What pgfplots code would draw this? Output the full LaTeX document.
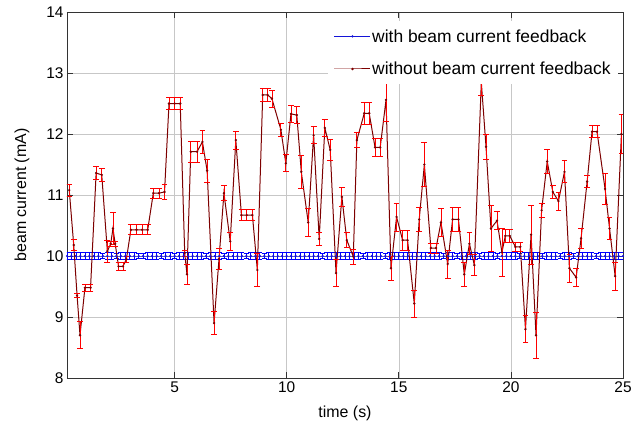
\documentclass[border=0pt]{standalone}
\usepackage{pgfplots}
\usepackage{pgfplotstable}
\pgfplotsset{compat=1.18}
\usepackage{fontspec}
\setmainfont{Liberation Sans}
\definecolor{redline}{RGB}{125,0,0}
\definecolor{rederr}{RGB}{255,0,0}
\definecolor{blueline}{RGB}{20,20,215}
\definecolor{blueerr}{RGB}{0,0,255}

\pgfplotstableread[row sep=\\]{
t y e\\
0.2 10 0.06\\ 0.4 10 0.06\\ 0.6 10 0.06\\ 0.8 10 0.06\\ 1.0 10 0.06\\ 1.2 10 0.06\\ 1.4 10 0.06\\ 1.6 10 0.06\\ 1.8 10 0.04\\ 2.0 10 0.06\\
2.2 10 0.06\\ 2.4 10 0.04\\ 2.6 10 0.06\\ 2.8 10 0.06\\ 3.0 10 0.06\\ 3.2 10 0.06\\ 3.4 10 0.04\\ 3.6 10 0.04\\ 3.8 10 0.06\\ 4.0 10 0.06\\
4.2 10 0.06\\ 4.4 10 0.04\\ 4.6 10 0.06\\ 4.8 10 0.06\\ 5.0 10 0.04\\ 5.2 10 0.06\\ 5.4 10 0.06\\ 5.6 10 0.06\\ 5.8 10 0.06\\ 6.0 10 0.06\\
6.2 10 0.06\\ 6.4 10 0.04\\ 6.6 10 0.06\\ 6.8 10 0.06\\ 7.0 10 0.06\\ 7.2 10 0.04\\ 7.4 10 0.06\\ 7.6 10 0.06\\ 7.8 10 0.06\\ 8.0 10 0.06\\
8.2 10 0.04\\ 8.4 10 0.06\\ 8.6 10 0.06\\ 8.8 10 0.06\\ 9.0 10 0.04\\ 9.2 10 0.06\\ 9.4 10 0.06\\ 9.6 10 0.06\\ 9.8 10 0.06\\ 10.0 10 0.06\\
10.2 10 0.06\\ 10.4 10 0.06\\ 10.6 10 0.06\\ 10.8 10 0.06\\ 11.0 10 0.06\\ 11.2 10 0.06\\ 11.4 10 0.06\\ 11.6 10 0.04\\ 11.8 10 0.06\\ 12.0 10 0.06\\
12.2 10 0.06\\ 12.4 10 0.06\\ 12.6 10 0.06\\ 12.8 10 0.06\\ 13.0 10 0.06\\ 13.2 10 0.06\\ 13.4 10 0.04\\ 13.6 10 0.06\\ 13.8 10 0.06\\ 14.0 10 0.06\\
14.2 10 0.06\\ 14.4 10 0.04\\ 14.6 10 0.06\\ 14.8 10 0.06\\ 15.0 10 0.06\\ 15.2 10 0.06\\ 15.4 10 0.06\\ 15.6 10 0.06\\ 15.8 10 0.06\\ 16.0 10 0.06\\
16.2 10 0.06\\ 16.4 10 0.06\\ 16.6 10 0.06\\ 16.8 10 0.06\\ 17.0 10 0.04\\ 17.2 10 0.06\\ 17.4 10 0.06\\ 17.6 10 0.04\\ 17.8 10 0.06\\ 18.0 10 0.06\\
18.2 10 0.06\\ 18.4 10 0.06\\ 18.6 10 0.04\\ 18.8 10 0.06\\ 19.0 10 0.06\\ 19.2 10 0.06\\ 19.4 10 0.04\\ 19.6 10 0.06\\ 19.8 10 0.06\\ 20.0 10 0.06\\
20.2 10 0.06\\ 20.4 10 0.04\\ 20.6 10 0.06\\ 20.8 10 0.06\\ 21.0 10 0.06\\ 21.2 10 0.06\\ 21.4 10 0.04\\ 21.6 10 0.06\\ 21.8 10 0.06\\ 22.0 10 0.06\\
22.2 10 0.04\\ 22.4 10 0.06\\ 22.6 10 0.06\\ 22.8 10 0.04\\ 23.0 10 0.06\\ 23.2 10 0.06\\ 23.4 10 0.06\\ 23.6 10 0.06\\ 23.8 10 0.04\\ 24.0 10 0.06\\
24.2 10 0.06\\ 24.4 10 0.06\\ 24.6 10 0.06\\ 24.8 10 0.06\\ 25.0 10 0.06\\
}\bluetab

\pgfplotstableread{
t y e
0.30 11.08 0.10
0.50 10.18 0.09
0.65 9.35 0.03
0.78 8.70 0.22
1.00 9.48 0.06
1.25 9.48 0.06
1.50 11.36 0.11
1.75 11.33 0.11
2.00 10.08 0.18
2.15 10.20 0.04
2.25 10.45 0.26
2.35 10.20 0.04
2.50 9.83 0.07
2.70 9.83 0.07
2.85 9.95 0.05
3.05 10.43 0.08
3.30 10.43 0.08
3.55 10.43 0.08
3.80 10.43 0.08
4.05 11.03 0.08
4.30 11.03 0.08
4.55 11.05 0.12
4.75 12.50 0.10
5.00 12.50 0.10
5.25 12.50 0.10
5.45 10.05 0.05
5.55 9.70 0.16
5.72 11.71 0.17
6.00 11.71 0.17
6.24 11.87 0.19
6.45 11.40 0.19
6.76 8.90 0.19
6.98 9.95 0.17
7.20 11.03 0.12
7.48 10.24 0.15
7.73 11.90 0.15
7.98 10.67 0.09
8.22 10.67 0.09
8.47 10.67 0.09
8.69 9.77 0.27
8.93 12.64 0.10
9.15 12.64 0.10
9.34 12.58 0.14
9.74 12.07 0.11
9.96 11.52 0.14
10.19 12.33 0.14
10.45 12.31 0.14
10.65 11.38 0.27
10.96 10.55 0.23
11.20 11.98 0.14
11.45 10.28 0.10
11.70 12.10 0.14
11.94 11.74 0.17
12.20 9.72 0.22
12.46 10.97 0.15
12.68 10.26 0.12
12.97 9.99 0.12
13.13 11.90 0.12
13.46 12.34 0.18
13.68 12.34 0.18
13.94 11.78 0.15
14.17 11.78 0.15
14.43 12.56 0.36
14.65 9.80 0.20
14.90 10.64 0.23
15.17 10.26 0.16
15.39 10.26 0.16
15.69 9.22 0.22
15.91 10.60 0.19
16.14 11.50 0.36
16.43 10.13 0.08
16.66 10.13 0.08
16.88 10.55 0.23
17.18 9.87 0.23
17.40 10.60 0.20
17.66 10.60 0.20
17.92 9.70 0.20
18.15 10.20 0.18
18.37 9.85 0.17
18.68 12.85 0.22
18.89 11.79 0.21
19.11 10.45 0.38
19.38 10.58 0.15
19.60 10.06 0.40
19.75 10.33 0.10
19.95 10.33 0.10
20.20 10.15 0.08
20.42 10.15 0.08
20.65 8.80 0.22
20.90 10.35 0.48
21.12 8.70 0.38
21.37 10.75 0.12
21.62 11.55 0.19
21.87 11.05 0.11
22.12 10.90 0.15
22.39 11.38 0.18
22.61 9.80 0.23
22.91 9.65 0.15
23.13 10.29 0.16
23.40 11.22 0.10
23.62 12.04 0.10
23.84 12.04 0.10
24.20 11.10 0.26
24.40 10.45 0.18
24.65 9.67 0.23
24.93 12.00 0.32
}\redtab

\begin{document}
\begin{tikzpicture}
\useasboundingbox (-67bp,-52bp) rectangle (572bp,378bp);
\begin{axis}[
  scale only axis, width=556bp, height=366bp,
  at={(0,0)}, anchor=south west,
  xmin=0.2, xmax=25, ymin=8, ymax=14,
  xtick={5,10,15,20,25}, ytick={8,9,10,11,12,13,14},
  grid=major, major grid style={black!22, line width=0.6bp},
  axis line style={black!80, line width=0.8bp},
  tick style={black!80, line width=0.8bp},
  tick align=inside, tick pos=both, major tick length=6bp,
  ticklabel style={font=\fontsize{15.5}{18}\selectfont},
  /pgf/number format/assume math mode=true,
  xlabel={time (s)}, ylabel={beam current (mA)},
  every axis x label/.style={at={(axis description cs:0.5,-0.0956)}, anchor=center, font=\fontsize{16}{19}\selectfont},
  every axis y label/.style={at={(axis description cs:-0.081,0.5)}, anchor=center, rotate=90, font=\fontsize{16}{19}\selectfont},
  legend style={at={(1,1)}, anchor=north east, xshift=-5bp, yshift=-9bp, draw=none, fill=white,
    inner xsep=6bp, inner ysep=7bp, row sep=16bp,
    font=\fontsize{17.5}{21}\selectfont,
    nodes={inner sep=1.2bp}},
  legend cell align=left,
  legend image code/.code={\draw[mark repeat=2,mark phase=2,#1] plot coordinates {(0bp,0bp) (18bp,0bp) (36bp,0bp)};},
]
\addplot[draw=blueline, line width=0.9bp, mark=*, mark size=0.6bp, mark options={fill=blueline, draw=blueline},
  error bars/y dir=both, error bars/y explicit,
  error bars/error bar style={draw=blueerr, line width=0.8bp},
  error bars/error mark options={rotate=90, draw=blueerr, mark size=2.6bp, line width=0.8bp}]
  table[x=t, y=y, y error=e] {\bluetab};
\addlegendentry{with beam current feedback}
\addplot[draw=redline, line width=1bp, mark=*, mark size=0.6bp, mark options={fill=redline, draw=redline},
  error bars/y dir=both, error bars/y explicit,
  error bars/error bar style={draw=rederr, line width=0.8bp},
  error bars/error mark options={rotate=90, draw=rederr, mark size=2.9bp, line width=0.8bp}]
  table[x=t, y=y, y error=e] {\redtab};
\addlegendentry{without beam current feedback}
\end{axis}
\end{tikzpicture}
\end{document}
